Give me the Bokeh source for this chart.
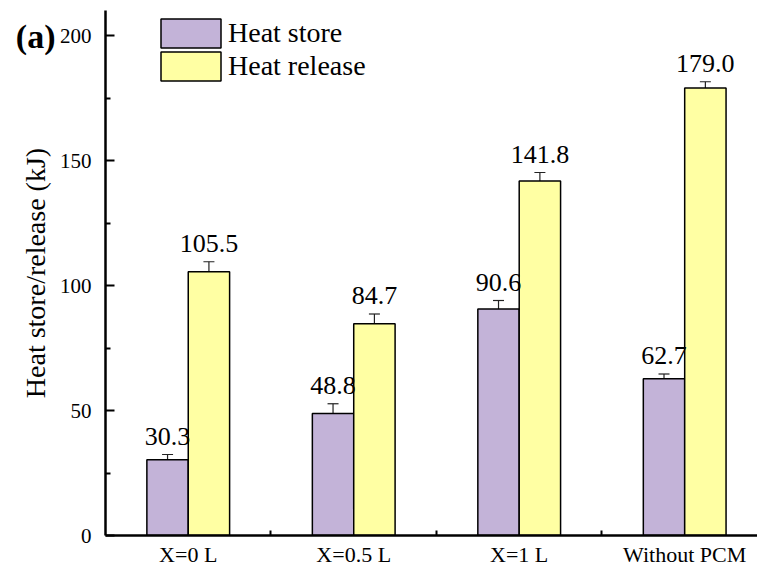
import numpy as np
from bokeh.plotting import figure
from bokeh.models import (ColumnDataSource, FixedTicker, Whisker, TeeHead, Legend,
                          LegendItem, LinearAxis, Range1d)
from bokeh.core.properties import value
from bokeh.embed import file_html
from bokeh.resources import INLINE

categories = ["X=0 L", "X=0.5 L", "X=1 L", "Without PCM"]
heat_store = [30.3, 48.8, 90.6, 62.7]
heat_store_err = [2.1, 3.9, 3.4, 1.9]
heat_release = [105.5, 84.7, 141.8, 179.0]
heat_release_err = [4.0, 3.9, 3.4, 2.5]
y_ticks = [0, 50, 100, 150, 200]
y_minor = [25, 75, 125, 175]
panel_tag = "(a)"

FONT = "Liberation Serif"
PURPLE = "#C3B3D8"
YELLOW = "#FFFFA3"
BW = 0.25

idx = np.arange(len(categories))
src_store = ColumnDataSource(dict(
    x=idx - BW / 2, top=heat_store,
    upper=[v + e for v, e in zip(heat_store, heat_store_err)],
    lower=[v - e for v, e in zip(heat_store, heat_store_err)],
    lab=[f"{v:.1f}" for v in heat_store]))
src_rel = ColumnDataSource(dict(
    x=idx + BW / 2, top=heat_release,
    upper=[v + e for v, e in zip(heat_release, heat_release_err)],
    lower=[v - e for v, e in zip(heat_release, heat_release_err)],
    lab=[f"{v:.1f}" for v in heat_release]))

p = figure(frame_width=652, frame_height=525, output_backend="svg", toolbar_location=None,
           x_range=Range1d(-0.5, 3.44), y_range=Range1d(0, 210),
           min_border_left=105, min_border_top=10, min_border_right=0, min_border_bottom=20)
p.outline_line_color = None
p.grid.visible = False
p.background_fill_color = "white"

r1 = p.vbar(x="x", top="top", width=BW, source=src_store, fill_color=PURPLE,
            line_color="black", line_width=1.5)
r2 = p.vbar(x="x", top="top", width=BW, source=src_rel, fill_color=YELLOW,
            line_color="black", line_width=1.5)

for src in (src_store, src_rel):
    w = Whisker(base="x", upper="upper", lower="lower", source=src,
                line_color="#222222", line_width=1.2,
                upper_head=TeeHead(size=11, line_color="#222222", line_width=1.2),
                lower_head=TeeHead(size=11, line_color="#222222", line_width=1.2))
    p.add_layout(w)
    p.text(x="x", y="upper", text="lab", source=src, text_align="center",
           text_baseline="bottom", y_offset=-10, text_font=value(FONT),
           text_font_size="26px", text_color="black")

# axes
xa = p.xaxis[0]
xa.ticker = FixedTicker(ticks=list(idx), minor_ticks=[0.5, 1.5, 2.5])
xa.major_label_overrides = {int(i): c for i, c in zip(idx, categories)}
xa.major_tick_in = 0
xa.major_tick_out = 0
xa.minor_tick_in = 5
xa.minor_tick_out = 0
xa.axis_line_width = 2.5
xa.minor_tick_line_width = 2
xa.major_label_text_font = FONT
xa.major_label_text_font_size = "22px"
xa.major_label_text_color = "black"
xa.major_label_standoff = 6

ya = p.yaxis[0]
ya.ticker = FixedTicker(ticks=y_ticks, minor_ticks=y_minor)
ya.major_tick_in = 9
ya.major_tick_out = 0
ya.minor_tick_in = 5
ya.minor_tick_out = 0
ya.axis_line_width = 2.5
ya.major_tick_line_width = 2
ya.minor_tick_line_width = 2
ya.major_label_text_font = FONT
ya.major_label_text_font_size = "21px"
ya.major_label_text_color = "black"
ya.major_label_standoff = 14
ya.axis_label = "Heat store/release (kJ)"
ya.axis_label_text_font = FONT
ya.axis_label_text_font_style = "normal"
ya.axis_label_text_font_size = "28px"
ya.axis_label_text_color = "black"
ya.axis_label_standoff = 6

# panel tag "(a)" as an extra, line-less left axis carrying a single label
tag_axis = LinearAxis(ticker=FixedTicker(ticks=[199.5]),
                      major_label_overrides={199.5: panel_tag},
                      axis_line_color=None, major_tick_line_color=None,
                      minor_tick_line_color=None, major_label_standoff=-45,
                      major_label_text_font=FONT, major_label_text_font_style="bold",
                      major_label_text_font_size="34px", major_label_text_color="black")
p.add_layout(tag_axis, "left")

for item_label, rend, loc in (("Heat store", r1, (48, 484)), ("Heat release", r2, (48, 451))):
    lg = Legend(items=[LegendItem(label=item_label, renderers=[rend])],
                location=loc, padding=0, margin=0, spacing=0,
                glyph_width=75, glyph_height=36, label_standoff=0,
                border_line_color=None, background_fill_alpha=0,
                label_text_font=FONT, label_text_font_size="28px",
                label_text_color="black", label_height=36)
    p.add_layout(lg)

open("out.html", "w").write(file_html(p, INLINE))
